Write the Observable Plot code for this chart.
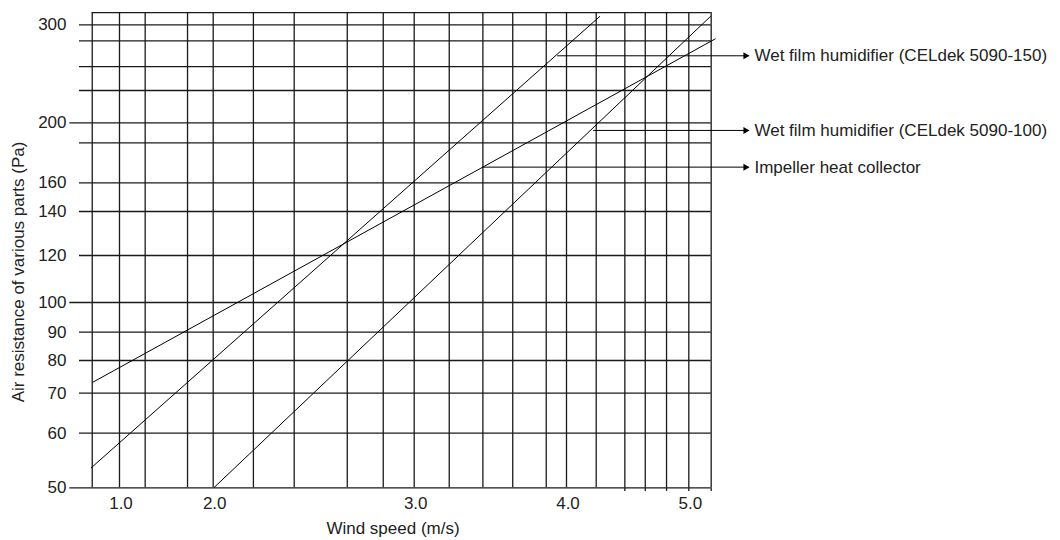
<!DOCTYPE html>
<html>
<head>
<meta charset="utf-8">
<script src="https://cdn.jsdelivr.net/npm/d3@7"></script>
<script src="https://cdn.jsdelivr.net/npm/@observablehq/plot@0.6"></script>
<style>
  body { margin: 0; background: #fff; }
  svg { display: block; }
</style>
</head>
<body>
<div id="chart"></div>
<script>
// ---- data ----
const seriesNames = [
  "Wet film humidifier (CELdek 5090-150)",
  "Wet film humidifier (CELdek 5090-100)",
  "Impeller heat collector"
];
const speedStart = [0.698, 2.006, 0.715];
const resistanceStart = [53.45, 50.1, 73.2];
const speedEnd = [4.272, 5.177, 5.216];
const resistanceEnd = [310.5, 310.5, 283];

// callout arrows (where each leader leaves its line)
const calloutSpeed = [3.939, 4.218, 3.448];
const calloutResistance = [263.9, 194.4, 169.6];
const labelSpeed = 5.488;

// axes & grid
const speedTicks = [1, 2, 3, 4, 5];
const resistanceTicks = [50, 60, 70, 80, 90, 100, 120, 140, 160, 200, 300];
const speedGrid = [0.709, 1, 1.274, 1.726, 2, 2.2, 2.403, 2.667, 2.846, 3, 3.23, 3.451, 3.647, 3.867, 4, 4.243, 4.477, 4.644, 4.818, 5, 5.183];
const speedSubTicks = [4.477, 4.644, 4.818, 5, 5.183];
const resistanceGrid = [50, 60, 70, 80, 90, 100, 120, 140, 160, 185.6, 200, 228.6, 252.4, 280.8, 300];
const resistanceMajor = [50, 100, 200];
const frameLeft = 0.709, frameRight = 5.183, frameTop = 315.6, frameBottom = 50;
const tickStart = 0.573, majorTickStart = 0.47, subTickEnd = 49.4;

// ---- tables built from the arrays ----
const lineRows = seriesNames.flatMap((name, i) => [
  {name, speed: speedStart[i], resistance: resistanceStart[i]},
  {name, speed: speedEnd[i], resistance: resistanceEnd[i]}
]);
const callouts = seriesNames.map((name, i) => ({name, speed: calloutSpeed[i], resistance: calloutResistance[i]}));

const ink = "#1a1a1a";

const chart = Plot.plot({
  width: 1060,
  height: 540,
  marginLeft: 92,
  marginRight: 349,
  marginTop: 12,
  marginBottom: 52.7,
  style: {fontFamily: "'Liberation Sans', Arial, sans-serif", fontSize: "17px", color: "#222", background: "#fff"},
  x: {type: "linear", domain: speedTicks, range: [119, 212.7, 413.7, 566, 688.3]},
  y: {type: "log", domain: resistanceTicks, range: [487.3, 432.7, 392.7, 360, 331.7, 302, 255, 211, 182.3, 122.3, 24.3]},
  marks: [
    // vertical grid
    Plot.ruleX(speedGrid, {y1: frameBottom, y2: frameTop, stroke: ink, strokeWidth: 1.3}),
    Plot.ruleX(speedSubTicks, {y1: frameBottom, y2: subTickEnd, stroke: ink, strokeWidth: 1.3}),
    // horizontal grid (with ticks running left of the frame)
    Plot.ruleY(resistanceGrid, {x1: d => resistanceMajor.includes(d) ? majorTickStart : tickStart, x2: frameRight, stroke: ink, strokeWidth: 1.3}),
    Plot.ruleY([frameTop], {x1: frameLeft, x2: frameRight, stroke: ink, strokeWidth: 1.3}),
    // data lines
    Plot.line(lineRows, {x: "speed", y: "resistance", z: "name", stroke: "#000", strokeWidth: 1}),
    // callout leaders
    Plot.link(callouts, {x1: "speed", y1: "resistance", x2: labelSpeed, y2: "resistance", stroke: "#000", strokeWidth: 1}),
    Plot.dot(callouts, {x: labelSpeed, y: "resistance", symbol: "triangle", rotate: 90, r: 2.6, fill: "#000", stroke: null, dx: -3}),
    Plot.text(callouts, {x: labelSpeed, y: "resistance", text: "name", textAnchor: "start", dx: 6, fill: "#222"}),
    // axes
    Plot.axisX(speedTicks, {tickSize: 0, tickPadding: 9, dx: 1.5, tickFormat: d3.format(".1f"), label: null}),
    Plot.axisY(resistanceTicks, {tickSize: 0, tickPadding: 0, dx: -26, tickFormat: d => String(d), label: null}),
    // axis titles
    Plot.text(["Wind speed (m/s)"], {frameAnchor: "bottom", textAnchor: "middle", lineAnchor: "middle", dx: -9, dy: 40.6, text: d => d, fill: "#222"}),
    Plot.text(["Air resistance of various parts (Pa)"], {frameAnchor: "left", textAnchor: "middle", lineAnchor: "middle", rotate: -90, dx: -73.5, dy: 21.8, text: d => d, fill: "#222"})
  ]
});
document.getElementById("chart").appendChild(chart);
</script>
</body>
</html>
